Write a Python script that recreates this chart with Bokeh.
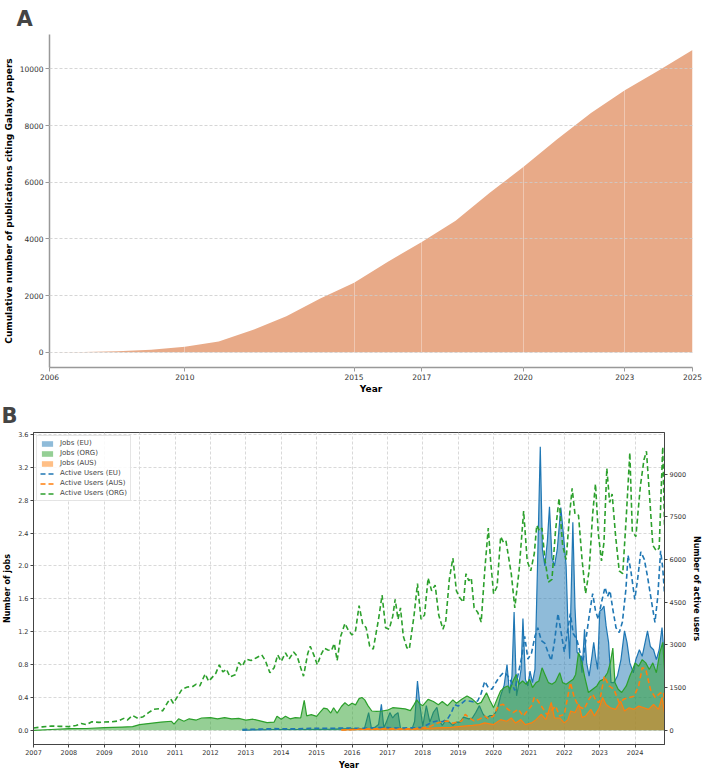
from bokeh.plotting import figure
from bokeh.models import (Range1d, LinearAxis, FixedTicker, PrintfTickFormatter,
                          Legend, LegendItem, Label)
from bokeh.layouts import column
from bokeh.embed import file_html
from bokeh.resources import INLINE

FONT = "DejaVu Sans"

# ---------------- Panel A data ----------------
pub_years = [2006, 2007, 2008, 2009, 2010, 2011, 2012, 2013, 2014, 2015, 2016,
             2017, 2018, 2019, 2020, 2021, 2022, 2023, 2024, 2025]
pub_cum = [0, 10, 40, 95, 200, 385, 785, 1270, 1900, 2454, 3201,
           3892, 4642, 5620, 6543, 7522, 8445, 9250, 9941, 10667]
pub_ticks = [2006, 2010, 2015, 2017, 2020, 2023, 2025]

# ---------------- Panel B data ----------------
# Jobs in millions, active users as counts; x as decimal years
org_users_x = [2007.0, 2007.25, 2007.5, 2007.75, 2008.0, 2008.2, 2008.35, 2008.5, 2008.65, 2008.85,
               2009.0, 2009.2, 2009.4, 2009.55, 2009.65, 2009.8, 2009.95, 2010.1, 2010.25, 2010.4,
               2010.55, 2010.65, 2010.8, 2010.88, 2010.95, 2011.05, 2011.2, 2011.35, 2011.5, 2011.6,
               2011.7, 2011.85, 2011.95, 2012.05, 2012.15, 2012.25, 2012.35, 2012.45, 2012.55, 2012.7,
               2012.8, 2012.9, 2013.0, 2013.15, 2013.3, 2013.45, 2013.55, 2013.68, 2013.8, 2013.9,
               2014.0, 2014.12, 2014.22, 2014.35, 2014.45, 2014.55, 2014.63, 2014.75, 2014.82, 2014.92,
               2015.02, 2015.12, 2015.22, 2015.32, 2015.42, 2015.5, 2015.58, 2015.68, 2015.8, 2015.9,
               2016.0, 2016.1, 2016.2, 2016.3, 2016.4, 2016.5, 2016.6, 2016.75, 2016.85, 2016.95,
               2017.05, 2017.15, 2017.22, 2017.3, 2017.37, 2017.45, 2017.55, 2017.62, 2017.75, 2017.85,
               2017.95, 2018.05, 2018.15, 2018.25, 2018.35, 2018.45, 2018.57, 2018.65, 2018.75, 2018.85,
               2018.95, 2019.05, 2019.15, 2019.22, 2019.3, 2019.37, 2019.45, 2019.55, 2019.65, 2019.75,
               2019.85, 2019.92, 2020.0, 2020.1, 2020.2, 2020.28, 2020.35, 2020.5, 2020.6, 2020.72,
               2020.85, 2020.95, 2021.05, 2021.15, 2021.22, 2021.3, 2021.37, 2021.45, 2021.55, 2021.65,
               2021.75, 2021.85, 2021.95, 2022.05, 2022.15, 2022.22, 2022.3, 2022.4, 2022.5, 2022.6,
               2022.7, 2022.8, 2022.88, 2022.96, 2023.05, 2023.12, 2023.2, 2023.28, 2023.35, 2023.45,
               2023.55, 2023.65, 2023.75, 2023.85, 2023.92, 2024.02, 2024.15, 2024.25, 2024.32, 2024.42,
               2024.5, 2024.6, 2024.68, 2024.73, 2024.78, 2024.83]
org_users = [80, 120, 150, 140, 130, 170, 240, 200, 300, 280,
             290, 300, 330, 420, 360, 520, 420, 480, 620, 740,
             760, 680, 1000, 1100, 950, 1150, 1450, 1520, 1540, 1620,
             1560, 1980, 1720, 1860, 2000, 2300, 2050, 2150, 1880, 1950,
             2380, 2250, 2500, 2450, 2550, 2650, 2450, 2020, 2200, 2650,
             2420, 2720, 2500, 2750, 2600, 2200, 1900, 2700, 2950, 2650,
             2300, 2650, 2880, 2820, 2800, 3050, 2450, 3300, 3750, 3500,
             3350, 3500, 4380, 3750, 3600, 2950, 2850, 3900, 4750, 3600,
             3550, 4000, 4600, 3900, 4300, 3300, 2900, 2850, 4000, 5150,
             3900, 4050, 5350, 4900, 5100, 4050, 3550, 3850, 5300, 6050,
             4900, 4650, 4500, 5500, 5250, 5350, 4300, 4150, 3800, 5600,
             7100, 5900, 4800, 5050, 6800, 6600, 6650, 5500, 4300, 5600,
             7700, 5950, 5600, 6200, 7200, 7000, 7100, 6000, 5200, 5300,
             7000, 8150, 6500, 6000, 7600, 8500, 7600, 7550, 6000, 4800,
             5600, 7600, 8650, 6900, 5950, 6600, 9200, 8000, 8300, 6800,
             5600, 5500, 7500, 9750, 7000, 6800, 8600, 9500, 9800, 8000,
             6500, 6300, 6400, 8200, 9950, 7200]

eu_users_x = [2012.9, 2013.3, 2013.8, 2014.3, 2014.8, 2015.3, 2015.8, 2016.3, 2016.8, 2017.3,
              2017.8, 2018.0, 2018.1, 2018.25, 2018.4, 2018.55, 2018.7, 2018.8, 2018.9, 2019.0,
              2019.1, 2019.2, 2019.3, 2019.42, 2019.55, 2019.65, 2019.75, 2019.85, 2019.95, 2020.05,
              2020.15, 2020.28, 2020.38, 2020.5, 2020.6, 2020.7, 2020.8, 2020.88, 2020.97, 2021.07,
              2021.17, 2021.25, 2021.35, 2021.45, 2021.55, 2021.63, 2021.72, 2021.82, 2021.9, 2022.0,
              2022.08, 2022.17, 2022.25, 2022.35, 2022.45, 2022.52, 2022.6, 2022.7, 2022.8, 2022.88,
              2022.96, 2023.05, 2023.15, 2023.22, 2023.29, 2023.37, 2023.46, 2023.55, 2023.64, 2023.74,
              2023.8, 2023.88, 2023.99, 2024.07, 2024.16, 2024.26, 2024.35, 2024.44, 2024.56, 2024.64,
              2024.72, 2024.78, 2024.83]
eu_users = [30, 40, 60, 50, 70, 70, 80, 70, 100, 80,
            90, 100, 180, 280, 330, 300, 400, 600, 900, 850,
            950, 1050, 1030, 1000, 1030, 1300, 1720, 1500, 1440, 1650,
            1850, 2030, 1950, 1700, 1400, 2000, 2600, 3300, 2500, 2700,
            3300, 3600, 3150, 3050, 2700, 2450, 3100, 4100, 3500, 2750,
            3400, 4100, 3400, 3200, 2700, 2400, 3100, 4000, 4800, 4200,
            3900, 4500, 5020, 4700, 4900, 4250, 3600, 3430, 3800, 4960,
            6150, 5600, 4600, 5300, 6270, 6000, 5400, 4700, 3790, 4700,
            6300, 5700, 4800]

aus_users_x = [2015.7, 2016.0, 2016.5, 2017.0, 2017.5, 2017.8, 2018.0, 2018.2, 2018.4, 2018.55,
               2018.7, 2018.85, 2019.0, 2019.1, 2019.2, 2019.3, 2019.45, 2019.6, 2019.75, 2019.85,
               2020.0, 2020.13, 2020.27, 2020.4, 2020.55, 2020.7, 2020.84, 2020.95, 2021.07, 2021.15,
               2021.22, 2021.35, 2021.5, 2021.63, 2021.75, 2021.87, 2022.0, 2022.1, 2022.17, 2022.28,
               2022.4, 2022.56, 2022.7, 2022.8, 2022.9, 2022.99, 2023.07, 2023.13, 2023.26, 2023.4,
               2023.55, 2023.69, 2023.83, 2023.97, 2024.1, 2024.2, 2024.3, 2024.43, 2024.57, 2024.7,
               2024.8, 2024.83]
aus_users = [10, 30, 50, 60, 40, 60, 90, 130, 250, 300,
             330, 250, 300, 330, 560, 450, 330, 390, 500, 410,
             500, 855, 914, 740, 620, 740, 500, 680, 855, 1150,
             1100, 855, 560, 680, 855, 500, 560, 1200, 1676, 1150,
             850, 740, 1100, 1265, 1030, 970, 1500, 1900, 1560, 1440,
             970, 1100, 1150, 1200, 1560, 2200, 2150, 1440, 1150, 1300,
             1350, 1000]

org_jobs_x = [2007.0, 2007.5, 2008.0, 2008.5, 2009.0, 2009.5, 2009.8, 2010.0, 2010.3, 2010.6,
              2010.9, 2010.97, 2011.1, 2011.25, 2011.4, 2011.6, 2011.75, 2012.0, 2012.2, 2012.4,
              2012.6, 2012.8, 2013.0, 2013.2, 2013.4, 2013.6, 2013.8, 2013.88, 2014.0, 2014.12,
              2014.25, 2014.4, 2014.55, 2014.65, 2014.72, 2014.85, 2015.0, 2015.1, 2015.2, 2015.3,
              2015.4, 2015.48, 2015.58, 2015.7, 2015.8, 2015.9, 2016.0, 2016.1, 2016.2, 2016.28,
              2016.36, 2016.45, 2016.56, 2016.7, 2016.85, 2017.0, 2017.15, 2017.3, 2017.5, 2017.65,
              2017.75, 2017.83, 2017.92, 2018.0, 2018.15, 2018.3, 2018.44, 2018.55, 2018.7, 2018.85,
              2018.95, 2019.1, 2019.25, 2019.4, 2019.55, 2019.65, 2019.8, 2019.9, 2020.0, 2020.1,
              2020.2, 2020.3, 2020.4, 2020.47, 2020.55, 2020.64, 2020.72, 2020.82, 2020.92, 2021.02,
              2021.1, 2021.2, 2021.28, 2021.37, 2021.45, 2021.55, 2021.65, 2021.75, 2021.87, 2021.95,
              2022.05, 2022.15, 2022.25, 2022.32, 2022.4, 2022.48, 2022.57, 2022.68, 2022.8, 2022.92,
              2023.0, 2023.1, 2023.22, 2023.3, 2023.37, 2023.43, 2023.52, 2023.62, 2023.75, 2023.85,
              2023.93, 2024.0, 2024.1, 2024.2, 2024.3, 2024.4, 2024.5, 2024.6, 2024.7, 2024.78,
              2024.83]
org_jobs = [0.0, 0.01, 0.02, 0.022, 0.032, 0.04, 0.045, 0.07, 0.085, 0.10,
            0.11, 0.075, 0.14, 0.11, 0.14, 0.125, 0.15, 0.155, 0.14, 0.155,
            0.14, 0.145, 0.125, 0.135, 0.115, 0.093, 0.10, 0.17, 0.135, 0.17,
            0.14, 0.155, 0.15, 0.365, 0.175, 0.19, 0.17, 0.22, 0.27, 0.26,
            0.21, 0.275, 0.21, 0.29, 0.335, 0.30, 0.33, 0.31, 0.385, 0.40,
            0.37, 0.30, 0.235, 0.23, 0.235, 0.245, 0.275, 0.27, 0.26, 0.24,
            0.31, 0.37, 0.32, 0.30, 0.377, 0.35, 0.31, 0.35, 0.30, 0.37,
            0.33, 0.377, 0.418, 0.38, 0.32, 0.34, 0.458, 0.36, 0.276, 0.38,
            0.48, 0.52, 0.54, 0.50, 0.60, 0.68, 0.56, 0.60, 0.56, 0.62,
            0.52, 0.58, 0.60, 0.76, 0.68, 0.58, 0.56, 0.59, 0.70, 0.58,
            0.56, 0.59, 0.62, 0.68, 0.945, 0.86, 0.66, 0.46, 0.50, 0.54,
            0.60, 0.62, 0.70, 0.82, 1.0, 0.58, 0.50, 0.46, 0.54, 0.66,
            0.74, 0.82, 0.78, 0.86, 0.82, 0.74, 0.82, 0.70, 0.95, 1.07,
            0.74]

eu_jobs_x = [2012.9, 2013.2, 2013.8, 2014.5, 2015.0, 2015.5, 2016.0, 2016.35, 2016.47, 2016.55,
             2016.66, 2016.75, 2016.83, 2016.9, 2016.97, 2017.07, 2017.15, 2017.22, 2017.3, 2017.37,
             2017.5, 2017.7, 2017.77, 2017.85, 2017.92, 2018.0, 2018.1, 2018.2, 2018.3, 2018.4,
             2018.47, 2018.55, 2018.65, 2018.75, 2018.85, 2018.95, 2019.05, 2019.15, 2019.3, 2019.4,
             2019.5, 2019.6, 2019.7, 2019.8, 2019.9, 2020.0, 2020.1, 2020.2, 2020.3, 2020.38,
             2020.45, 2020.52, 2020.58, 2020.65, 2020.72, 2020.78, 2020.83, 2020.9, 2020.97, 2021.03,
             2021.1, 2021.17, 2021.24, 2021.32, 2021.38, 2021.45, 2021.52, 2021.58, 2021.65, 2021.72,
             2021.8, 2021.9, 2021.97, 2022.05, 2022.1, 2022.15, 2022.24, 2022.3, 2022.36, 2022.45,
             2022.5, 2022.57, 2022.63, 2022.7, 2022.78, 2022.83, 2022.88, 2022.94, 2023.0, 2023.06,
             2023.12, 2023.18, 2023.25, 2023.32, 2023.4, 2023.5, 2023.6, 2023.7, 2023.77, 2023.85,
             2023.95, 2024.02, 2024.12, 2024.2, 2024.35, 2024.43, 2024.52, 2024.6, 2024.68, 2024.76,
             2024.83]
eu_jobs = [0.0, 0.005, 0.01, 0.01, 0.012, 0.015, 0.02, 0.02, 0.215, 0.02,
           0.04, 0.07, 0.316, 0.03, 0.10, 0.215, 0.15, 0.19, 0.215, 0.02,
           0.01, 0.02, 0.11, 0.60, 0.30, 0.05, 0.30, 0.10, 0.22, 0.28,
           0.12, 0.06, 0.12, 0.10, 0.06, 0.10, 0.10, 0.16, 0.14, 0.15,
           0.22, 0.30, 0.20, 0.15, 0.18, 0.18, 0.25, 0.42, 0.55, 0.80,
           0.45, 0.66, 1.44, 0.42, 0.58, 0.75, 1.36, 0.62, 0.54, 0.72,
           0.58, 0.74, 1.96, 3.45, 2.20, 2.00, 2.30, 2.72, 2.10, 2.00,
           2.20, 2.71, 2.40, 2.00, 1.30, 0.87, 2.53, 1.50, 0.95, 0.90,
           0.70, 1.23, 0.82, 0.66, 0.90, 1.07, 0.90, 0.74, 1.45, 1.47,
           1.51, 1.27, 1.07, 0.58, 0.58, 0.66, 0.86, 1.21, 1.07, 0.82,
           0.70, 0.86, 0.98, 0.90, 1.21, 1.02, 0.98, 0.86, 0.98, 1.25,
           0.86]

aus_jobs_x = [2015.7, 2016.2, 2016.7, 2017.2, 2017.7, 2018.0, 2018.4, 2018.8, 2019.0, 2019.4,
              2019.6, 2019.75, 2020.0, 2020.2, 2020.37, 2020.5, 2020.62, 2020.77, 2020.9, 2021.07,
              2021.2, 2021.35, 2021.48, 2021.63, 2021.72, 2021.87, 2022.0, 2022.1, 2022.18, 2022.3,
              2022.41, 2022.5, 2022.6, 2022.75, 2022.85, 2022.99, 2023.08, 2023.18, 2023.3, 2023.45,
              2023.59, 2023.7, 2023.83, 2023.97, 2024.1, 2024.25, 2024.38, 2024.52, 2024.66, 2024.76,
              2024.83]
aus_jobs = [0.005, 0.01, 0.015, 0.02, 0.015, 0.02, 0.03, 0.035, 0.045, 0.06,
            0.07, 0.09, 0.07, 0.13, 0.11, 0.15, 0.09, 0.13, 0.07, 0.09,
            0.13, 0.195, 0.13, 0.34, 0.15, 0.15, 0.09, 0.13, 0.235, 0.215,
            0.316, 0.155, 0.175, 0.255, 0.175, 0.275, 0.40, 0.315, 0.275, 0.255,
            0.355, 0.235, 0.275, 0.255, 0.295, 0.275, 0.255, 0.315, 0.255, 0.40,
            0.215]

job_ticks = [0.0, 0.4, 0.8, 1.2, 1.6, 2.0, 2.4, 2.8, 3.2, 3.6]
user_ticks = [0, 1500, 3000, 4500, 6000, 7500, 9000]
year_ticks_b = list(range(2007, 2025))

BLUE, ORANGE, GREEN = "#1f77b4", "#ff7f0e", "#2ca02c"

# ---------------- Panel A ----------------
pa = figure(width=704, height=396, output_backend="svg", toolbar_location=None,
            x_range=Range1d(2006, 2025), y_range=Range1d(-534, 11214),
            min_border_left=49, min_border_right=12, min_border_top=10, min_border_bottom=5)
pa.frame_align = False
pa.title.text = "A"
pa.title.text_font = FONT
pa.title.text_font_size = "21px"
pa.title.text_font_style = "bold"
pa.title.align = "left"
pa.title.offset = -33
pa.title.standoff = 8
pa.outline_line_color = None
pa.varea(x=pub_years, y1=0, y2=pub_cum, fill_color="#E8AA88", fill_alpha=1.0)
pa.xaxis.ticker = FixedTicker(ticks=pub_ticks)
pa.yaxis.ticker = FixedTicker(ticks=[0, 2000, 4000, 6000, 8000, 10000])
for ax in (pa.xaxis[0], pa.yaxis[0]):
    ax.axis_line_color = "#999999"
    ax.axis_line_width = 1.5
    ax.major_tick_line_color = "#999999"
    ax.major_tick_out = 4
    ax.major_tick_in = 0
    ax.minor_tick_line_color = None
    ax.major_label_text_font = FONT
    ax.major_label_text_font_size = "7.5px"
    ax.major_label_text_color = "#333333"
    ax.major_label_standoff = 2
    ax.axis_label_text_font = FONT
    ax.axis_label_text_font_style = "bold"
    ax.axis_label_text_font_size = "9px"
    ax.axis_label_text_color = "black"
    ax.axis_label_standoff = 3
pa.xaxis.axis_label_standoff = 1
pa.xaxis.axis_label = "Year"
pa.yaxis.axis_label = "Cumulative number of publications citing Galaxy papers"
pa.ygrid.grid_line_color = "#cccccc"
pa.ygrid.grid_line_dash = "3 2"
pa.ygrid.grid_line_alpha = 0.8
pa.ygrid.level = "overlay"
pa.xgrid.grid_line_color = "white"
pa.xgrid.grid_line_alpha = 0.35
pa.xgrid.level = "overlay"

# ---------------- Panel B ----------------
pb = figure(width=704, height=376, output_backend="svg", toolbar_location=None,
            x_range=Range1d(2007, 2024.83), y_range=Range1d(-0.1725, 3.6225),
            min_border_left=5, min_border_right=37, min_border_top=10, min_border_bottom=5)
pb.frame_align = False
pb.extra_y_ranges = {"users": Range1d(-498, 10458)}
pb.title.text = "B"
pb.title.text_font = FONT
pb.title.text_font_size = "21px"
pb.title.text_font_style = "bold"
pb.title.align = "left"
pb.title.offset = -32
pb.title.standoff = 10
pb.outline_line_color = "#444444"

r_eu = pb.varea(x=eu_jobs_x, y1=0, y2=eu_jobs, fill_color=BLUE, fill_alpha=0.5)
pb.line(eu_jobs_x, eu_jobs, line_color=BLUE, line_width=1.2)
r_org = pb.varea(x=org_jobs_x, y1=0, y2=org_jobs, fill_color=GREEN, fill_alpha=0.5)
pb.line(org_jobs_x, org_jobs, line_color=GREEN, line_width=1.2)
r_aus = pb.varea(x=aus_jobs_x, y1=0, y2=aus_jobs, fill_color=ORANGE, fill_alpha=0.5)
pb.line(aus_jobs_x, aus_jobs, line_color=ORANGE, line_width=1.2)

l_eu = pb.line(eu_users_x, eu_users, line_color=BLUE, line_width=1.6, line_dash="5 3",
               y_range_name="users")
l_aus = pb.line(aus_users_x, aus_users, line_color=ORANGE, line_width=1.6, line_dash="5 3",
                y_range_name="users")
l_org = pb.line(org_users_x, org_users, line_color=GREEN, line_width=1.6, line_dash="5 3",
                y_range_name="users")

right_ax = LinearAxis(y_range_name="users")
pb.add_layout(right_ax, "right")
right_ax.ticker = FixedTicker(ticks=user_ticks)
right_ax.axis_label = "Number of active users"

pb.xaxis.ticker = FixedTicker(ticks=year_ticks_b)
pb.yaxis[0].ticker = FixedTicker(ticks=job_ticks)
pb.yaxis[0].formatter = PrintfTickFormatter(format="%.1f")
pb.yaxis[0].axis_label = "Number of jobs"
pb.xaxis.axis_label = "Year"
for ax in (pb.xaxis[0], pb.yaxis[0], right_ax):
    ax.axis_line_color = "#444444"
    ax.major_tick_line_color = "#444444"
    ax.major_tick_out = 3
    ax.major_tick_in = 0
    ax.minor_tick_line_color = None
    ax.major_label_text_font = FONT
    ax.major_label_text_font_size = "6.5px"
    ax.major_label_text_color = "#333333"
    ax.major_label_standoff = 2
    ax.axis_label_text_font = FONT
    ax.axis_label_text_font_style = "bold"
    ax.axis_label_text_font_size = "8px"
    ax.axis_label_text_color = "black"
    ax.axis_label_standoff = 3
pb.xgrid.ticker = FixedTicker(ticks=year_ticks_b)
pb.xgrid.grid_line_color = "#d9d9d9"
pb.xgrid.grid_line_dash = "3 2"
pb.ygrid.grid_line_color = "#d9d9d9"
pb.ygrid.grid_line_dash = "3 2"

pb.add_layout(Label(x=2007, y=3.6225, x_offset=0, y_offset=1, text="1e6",
                    text_font=FONT, text_font_size="6px", text_color="#333333"))

legend = Legend(items=[
    LegendItem(label="Jobs (EU)", renderers=[r_eu]),
    LegendItem(label="Jobs (ORG)", renderers=[r_org]),
    LegendItem(label="Jobs (AUS)", renderers=[r_aus]),
    LegendItem(label="Active Users (EU)", renderers=[l_eu]),
    LegendItem(label="Active Users (AUS)", renderers=[l_aus]),
    LegendItem(label="Active Users (ORG)", renderers=[l_org]),
], location="top_left")
legend.label_text_font = FONT
legend.label_text_font_size = "7px"
legend.label_height = 8
legend.glyph_height = 7
legend.glyph_width = 14
legend.spacing = 2
legend.padding = 3
legend.margin = 3
legend.label_standoff = 6
legend.border_line_color = "#cccccc"
legend.background_fill_alpha = 0.85
pb.add_layout(legend)

layout = column(pa, pb, spacing=0)
open("out.html", "w").write(file_html(layout, INLINE))
